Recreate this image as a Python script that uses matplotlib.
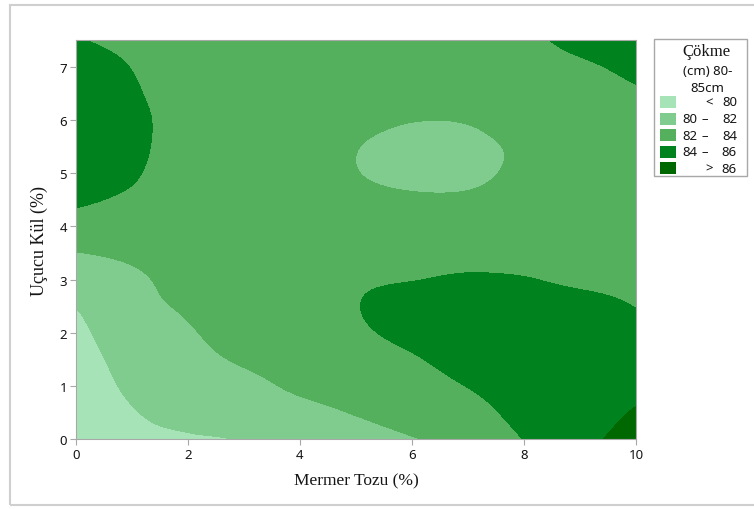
import numpy as np
import matplotlib
matplotlib.use("Agg")
import matplotlib.pyplot as plt
from matplotlib.patches import Rectangle

# grid (Mermer Tozu x Ucucu Kul -> Cokme)
mermer = [0, 1, 2, 3, 4, 5, 6, 7, 8, 9, 10]
ucucu = [0, 0.5, 1, 1.5, 2, 2.5, 3, 3.5, 4, 4.5, 5, 5.5, 6, 6.5, 7, 7.5]
cokme = [
    [77.5, 79.3, 79.8, 80.1, 80.9, 81.2, 81.9, 82.6, 84.05, 85.6, 86.43],
    [78.0, 79.85, 80.6, 80.7, 81.5, 82.1, 82.8, 83.3, 84.6, 85.4, 86.1],
    [78.5, 80.4, 81.1, 81.5, 82.3, 82.7, 83.3, 84.05, 85.0, 85.3, 85.6],
    [79.0, 80.8, 81.5, 82.2, 82.8, 83.2, 83.85, 84.6, 85.2, 85.2, 85.2],
    [79.5, 81.2, 81.85, 82.7, 83.1, 83.75, 84.4, 84.9, 85.2, 85.0, 84.6],
    [80.06, 81.5, 82.2, 83.0, 83.4, 83.95, 84.6, 84.9, 85.0, 84.7, 83.95],
    [81.1, 81.7, 82.6, 83.2, 83.5, 83.8, 83.95, 84.2, 84.1, 83.6, 83.3],
    [81.95, 82.3, 82.9, 83.3, 83.5, 83.4, 83.3, 83.4, 83.3, 83.1, 82.9],
    [83.2, 82.95, 83.1, 83.3, 83.4, 83.0, 82.7, 82.8, 82.9, 82.9, 82.7],
    [84.3, 83.7, 83.2, 83.3, 83.2, 82.5, 82.2, 82.2, 82.6, 82.8, 82.7],
    [85.0, 84.2, 83.0, 83.2, 82.9, 82.05, 81.6, 81.7, 82.3, 82.8, 82.8],
    [85.3, 84.5, 83.0, 83.1, 82.9, 82.05, 81.5, 81.6, 82.3, 82.9, 83.0],
    [85.3, 84.55, 83.0, 83.0, 83.0, 82.5, 82.05, 82.1, 82.8, 83.1, 83.4],
    [85.1, 84.25, 82.9, 82.9, 83.0, 83.0, 82.7, 82.8, 83.2, 83.4, 83.85],
    [84.8, 83.95, 82.8, 82.9, 83.1, 83.3, 83.2, 83.3, 83.5, 83.8, 84.3],
    [84.1, 83.55, 82.9, 83.0, 83.3, 83.5, 83.6, 83.7, 83.75, 84.35, 84.8],
]
levels = [70, 80, 82, 84, 86, 95]
band_labels = [("", "<", "80"), ("80", "\u2013", "82"), ("82", "\u2013", "84"),
               ("84", "\u2013", "86"), ("", ">", "86")]
colors = ["#a6e4b8", "#80cc8e", "#54b05c", "#00821e", "#006800"]


def smooth_axis(a, n_out, axis):
    # catmull-rom resampling, only to get smooth contour edges
    a = np.moveaxis(np.asarray(a, float), axis, 0)
    n = a.shape[0]
    t = np.linspace(0, n - 1, n_out)
    i = np.clip(np.floor(t).astype(int), 0, n - 2)
    u = (t - i)[:, None]
    pad = np.concatenate([2 * a[:1] - a[1:2], a, 2 * a[-1:] - a[-2:-1]])
    p0, p1, p2, p3 = pad[i], pad[i + 1], pad[i + 2], pad[i + 3]
    out = 0.5 * (2 * p1 + (p2 - p0) * u + (2 * p0 - 5 * p1 + 4 * p2 - p3) * u ** 2
                 + (3 * p1 - p0 - 3 * p2 + p3) * u ** 3)
    return np.moveaxis(out, 0, axis)


z = smooth_axis(smooth_axis(cokme, 300, 0), 400, 1)
xf = np.linspace(mermer[0], mermer[-1], z.shape[1])
yf = np.linspace(ucucu[0], ucucu[-1], z.shape[0])

W, H = 754, 510
TXT = "#151515"
fig = plt.figure(figsize=(W / 100, H / 100), dpi=100)
fig.patches.append(Rectangle((10 / W, 4 / H), 1.2, (H - 10) / H, transform=fig.transFigure,
                             fill=False, edgecolor="#cfcfcf", lw=1.5))

ax = fig.add_axes([76 / W, 1 - 440 / H, 560 / W, (440 - 41.4) / H])
ax.contourf(xf, yf, z, levels=levels, colors=colors)
ax.set_xlim(0, 10)
ax.set_ylim(0, 7.5)
ax.set_xticks([0, 2, 4, 6, 8, 10])
ax.set_yticks([0, 1, 2, 3, 4, 5, 6, 7])
for s in ax.spines.values():
    s.set_color("#a8a8a8")
ax.tick_params(direction="out", length=4.5, color="#a8a8a8", labelsize=9.5, labelcolor=TXT, pad=2)
for lab in ax.get_xticklabels() + ax.get_yticklabels():
    lab.set_family("Noto Sans")
ax.set_xlabel("Mermer Tozu (%)", family="Liberation Serif", fontsize=12.5, color=TXT, labelpad=8)
ax.set_ylabel("U\u00e7ucu K\u00fcl (%)", family="Liberation Serif", fontsize=13, color=TXT,
              labelpad=8)

# legend box drawn by hand, Minitab style
fig.patches.append(Rectangle((654 / W, 1 - 177 / H), 93 / W, 137 / H, transform=fig.transFigure,
                             fill=False, edgecolor="#a8a8a8", lw=1))
fig.text(706 / W, 1 - 52 / H, "\u00c7\u00f6kme", family="Liberation Serif", fontsize=12,
         ha="center", va="center", color=TXT)
fig.text(708 / W, 1 - 72 / H, "(cm) 80-", family="Noto Sans", fontsize=9.5,
         ha="center", va="center", color=TXT)
fig.text(707 / W, 1 - 88 / H, "85cm", family="Noto Sans", fontsize=9.5,
         ha="center", va="center", color=TXT)
for k, (lo, sym, hi) in enumerate(band_labels):
    yc = 103 + k * 16.6
    fig.patches.append(Rectangle((660 / W, 1 - (yc + 6) / H), 16 / W, 12 / H,
                                 transform=fig.transFigure, facecolor=colors[k], edgecolor="none"))
    if lo:
        fig.text(697 / W, 1 - yc / H, lo, family="Noto Sans", fontsize=9.5, ha="right",
                 va="center", color=TXT)
    fig.text(705 / W if lo else 709 / W, 1 - yc / H, sym, family="Noto Sans", fontsize=9.5,
             ha="center", va="center", color=TXT)
    fig.text(737 / W, 1 - yc / H, hi, family="Noto Sans", fontsize=9.5, ha="right",
             va="center", color=TXT)

fig.savefig("out.png", dpi=100)
